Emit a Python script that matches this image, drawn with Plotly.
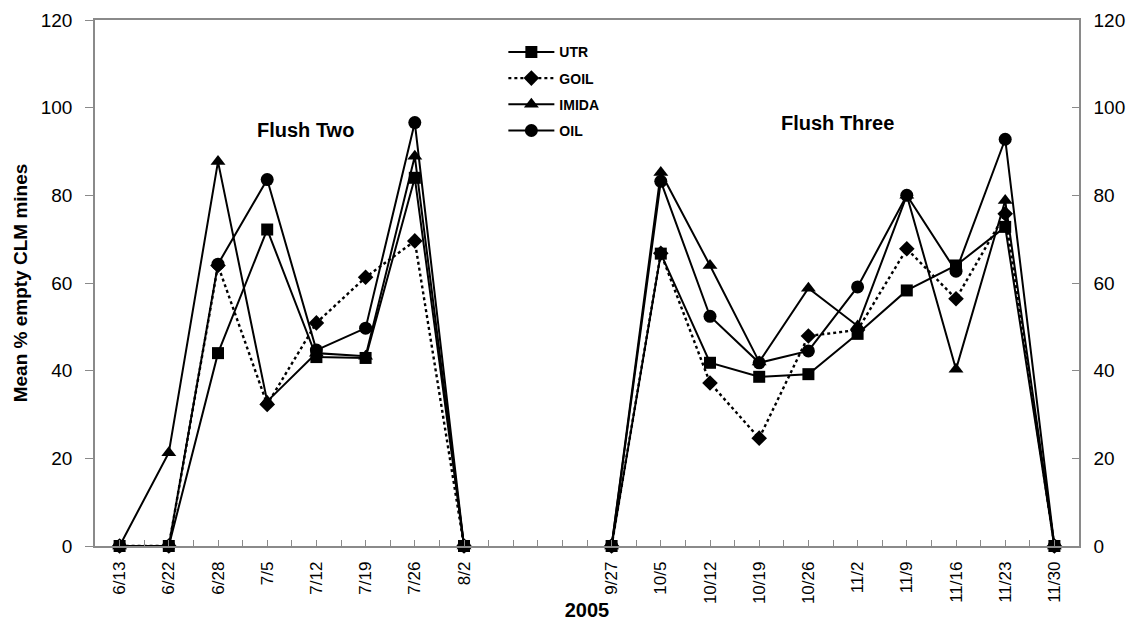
import plotly.graph_objects as go

# ---- data ----
flush2_dates = ["6/13", "6/22", "6/28", "7/5", "7/12", "7/19", "7/26", "8/2"]
gap_cats = ["gap1", "gap2"]
flush3_dates = ["9/27", "10/5", "10/12", "10/19", "10/26", "11/2", "11/9", "11/16", "11/23", "11/30"]

utr_f2 = [0, 0, 44.0, 72.2, 43.1, 42.9, 84.0, 0]
utr_f3 = [0, 66.7, 41.8, 38.6, 39.2, 48.4, 58.3, 64.0, 72.8, 0]

goil_f2 = [0, 0, 64.0, 32.3, 50.9, 61.3, 69.6, 0]
goil_f3 = [0, 66.8, 37.2, 24.6, 47.9, 49.3, 67.8, 56.4, 75.8, 0]

imida_f2 = [0, 21.3, 87.7, 33.0, 44.0, 43.3, 88.9, 0]
imida_f3 = [0, 85.2, 64.0, 42.0, 58.8, 50.2, 80.0, 40.3, 78.8, 0]

oil_f2 = [0, 0, 64.3, 83.6, 44.7, 49.7, 96.6, 0]
oil_f3 = [0, 83.2, 52.4, 41.8, 44.5, 59.1, 80.0, 62.7, 92.8, 0]

series_names = ["UTR", "GOIL", "IMIDA", "OIL"]
y_ticks = [0, 20, 40, 60, 80, 100, 120]

all_cats = flush2_dates + gap_cats + flush3_dates

FONT = "Liberation Sans, Arial, sans-serif"
GREY = "#8a8a8a"

styles = {
    "UTR": dict(symbol="square", size=12, dash="solid"),
    "GOIL": dict(symbol="diamond", size=12, dash="dot"),
    "IMIDA": dict(symbol="triangle-up", size=13, dash="solid"),
    "OIL": dict(symbol="circle", size=13, dash="solid"),
}
values = {
    "UTR": (utr_f2, utr_f3),
    "GOIL": (goil_f2, goil_f3),
    "IMIDA": (imida_f2, imida_f3),
    "OIL": (oil_f2, oil_f3),
}

fig = go.Figure()

# helper traces so the overlay axes know their categories / ranges
fig.add_trace(go.Scatter(x=all_cats, y=[None] * len(all_cats), xaxis="x2", yaxis="y",
                         mode="lines", showlegend=False, hoverinfo="skip"))
fig.add_trace(go.Scatter(x=all_cats, y=[None] * len(all_cats), xaxis="x", yaxis="y2",
                         mode="lines", showlegend=False, hoverinfo="skip"))

for name in series_names:
    f2, f3 = values[name]
    st = styles[name]
    xs = flush2_dates + [gap_cats[0]] + flush3_dates
    ys = list(f2) + [None] + list(f3)
    fig.add_trace(go.Scatter(
        x=xs, y=ys, name=name, mode="lines+markers",
        legendgroup=name,
        connectgaps=False,
        cliponaxis=False,
        line=dict(color="black", width=2 if st["dash"] == "solid" else 2.4, dash=st["dash"]),
        marker=dict(symbol=st["symbol"], size=st["size"], color="black",
                    line=dict(width=0)),
        xaxis="x", yaxis="y",
    ))

ticktext = [c if not c.startswith("gap") else "" for c in all_cats]

fig.update_layout(
    width=1131, height=623,
    margin=dict(l=95, r=52, t=20, b=77),
    paper_bgcolor="white", plot_bgcolor="white",
    font=dict(family=FONT, color="black"),
    showlegend=True,
    legend=dict(
        x=0.415, y=0.969, xanchor="left", yanchor="top",
        bgcolor="rgba(0,0,0,0)",
        font=dict(family=FONT, size=14, color="black", weight="bold"),
        tracegroupgap=5,
        itemwidth=46,
    ),
    xaxis=dict(
        type="category", categoryorder="array", categoryarray=all_cats,
        range=[-0.5, len(all_cats) - 0.5],
        tickmode="array", tickvals=all_cats, ticktext=ticktext,
        tickangle=-90, tickfont=dict(size=17, family=FONT), ticklabelstandoff=7,
        ticks="inside", ticklen=6, tickcolor=GREY, tickwidth=1.3,
        showline=True, linecolor=GREY, linewidth=1.5, mirror=True,
        showgrid=False, zeroline=False, automargin=False,
        title=dict(text="<b>2005</b>", font=dict(size=20, family=FONT), standoff=0),
    ),
    xaxis2=dict(
        type="category", categoryorder="array", categoryarray=all_cats,
        range=[-0.5, len(all_cats) - 0.5],
        overlaying="x", anchor="y", side="bottom",
        tickmode="array", tickvals=all_cats, ticktext=[""] * len(all_cats),
        tickson="boundaries",
        ticks="inside", ticklen=6, tickcolor=GREY, tickwidth=1.3,
        showline=False, showgrid=False, zeroline=False, showticklabels=False,
    ),
    yaxis=dict(
        range=[0, 120], tickmode="array", tickvals=y_ticks,
        ticks="outside", ticklen=8, tickcolor=GREY, tickwidth=1.3,
        tickfont=dict(size=19, family=FONT), ticklabelstandoff=9,
        showline=True, linecolor=GREY, linewidth=1.5,
        showgrid=False, zeroline=False, automargin=False,
        title=dict(text="<b>Mean % empty CLM mines</b>", font=dict(size=19, family=FONT), standoff=8),
    ),
    yaxis2=dict(
        range=[0, 120], tickmode="array", tickvals=y_ticks,
        overlaying="y", side="right", anchor="x",
        ticks="inside", ticklen=7, tickcolor=GREY, tickwidth=1.3,
        tickfont=dict(size=19, family=FONT), ticklabelstandoff=9,
        showline=True, linecolor=GREY, linewidth=1.5,
        showgrid=False, zeroline=False, automargin=False,
    ),
    annotations=[
        dict(text="<b>Flush Two</b>", x="7/5", y=95, xref="x", yref="y",
             xshift=38, showarrow=False, font=dict(size=20, family=FONT, color="black")),
        dict(text="<b>Flush Three</b>", x="11/2", y=96.5, xref="x", yref="y",
             xshift=-20, showarrow=False, font=dict(size=20, family=FONT, color="black")),
    ],
)

fig.write_html("out.html")
